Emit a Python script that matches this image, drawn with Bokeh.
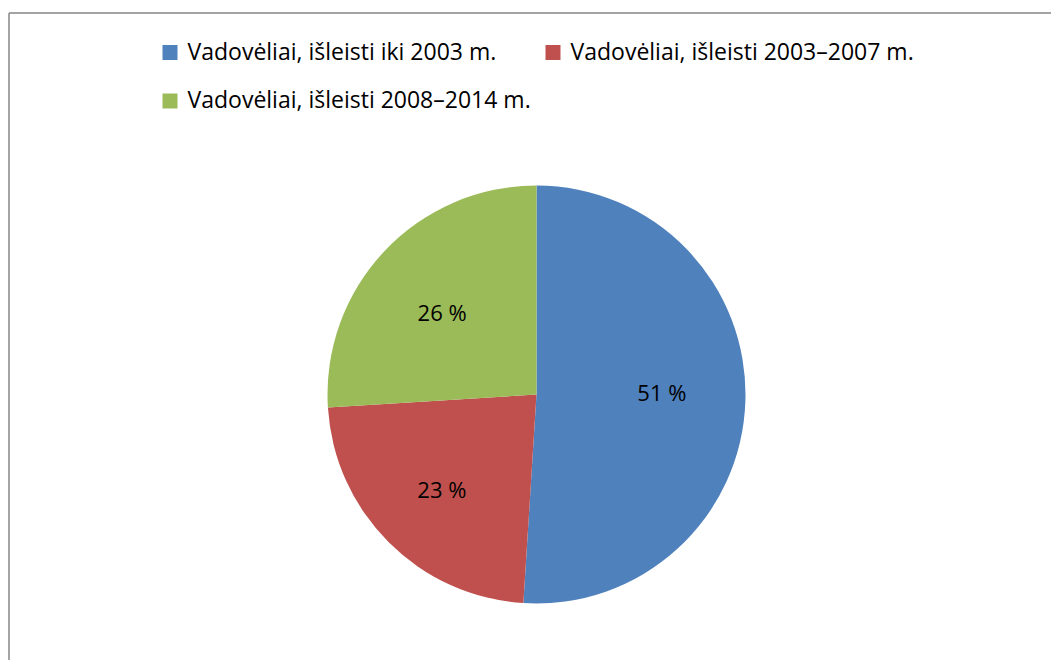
import numpy as np
from bokeh.plotting import figure
from bokeh.models import Range1d, ColumnDataSource
from bokeh.core.properties import value
from bokeh.embed import file_html
from bokeh.resources import INLINE

categories = ["Vadovėliai, išleisti iki 2003 m.",
              "Vadovėliai, išleisti 2003–2007 m.",
              "Vadovėliai, išleisti 2008–2014 m."]
shares = [51, 23, 26]
labels = ["51 %", "23 %", "26 %"]
colors = ["#4F81BD", "#C0504D", "#9BBB59"]

# layout (page pixel coordinates, y measured downward)
CX, CY, R = 536, 394, 209
LABEL_R = 0.6
label_nudge_x = [0, -6, -3]
label_nudge_y = [-6, 6, 3]
legend_x = [162, 545, 162]
legend_y = [52, 52, 100.5]
FONT = value("Open Sans")

W, H = 1051, 660
p = figure(width=W, height=H, output_backend="svg", toolbar_location=None,
           x_axis_type=None, y_axis_type=None,
           x_range=Range1d(0, W), y_range=Range1d(-H, 0),
           min_border=0, outline_line_color=None, background_fill_color="white",
           border_fill_color="white")
p.grid.visible = False

vals = np.array(shares, dtype=float)
frac = vals / vals.sum()
cum_end = np.cumsum(frac)
cum_start = cum_end - frac
start_ang = np.pi / 2 - 2 * np.pi * cum_start
end_ang = np.pi / 2 - 2 * np.pi * cum_end
mid = (start_ang + end_ang) / 2

src = ColumnDataSource(dict(start=start_ang, end=end_ang, color=colors,
                            lx=CX + LABEL_R * R * np.cos(mid) + np.array(label_nudge_x),
                            ly=-CY + LABEL_R * R * np.sin(mid) - np.array(label_nudge_y),
                            label=labels))
p.wedge(x=CX, y=-CY, radius=R, start_angle="start", end_angle="end",
        direction="clock", fill_color="color", line_color=None, source=src)
p.text(x="lx", y="ly", text="label", source=src, text_align="center",
       text_baseline="middle", text_font=FONT, text_font_size="22px",
       text_color="black")

# legend
ly_arr = np.array(legend_y)
lsrc = ColumnDataSource(dict(x=np.array(legend_x) + 7.5, y=-ly_arr,
                             ty=-(ly_arr - 2),
                             tx=np.array(legend_x) + 25, color=colors,
                             name=categories))
p.rect(x="x", y="y", width=15, height=15, fill_color="color", line_color=None,
       source=lsrc)
p.text(x="tx", y="ty", text="name", source=lsrc,
       text_align="left", text_baseline="middle", text_font=FONT,
       text_font_size="23px", text_color="black")

# chart frame (left & top edges visible)
p.segment(x0=[8.5, 8.5], y0=[-12.5, -12.5], x1=[8.5, W], y1=[-H, -12.5],
          line_color="#868686", line_width=1.5)

open("out.html", "w").write(file_html(p, INLINE))
